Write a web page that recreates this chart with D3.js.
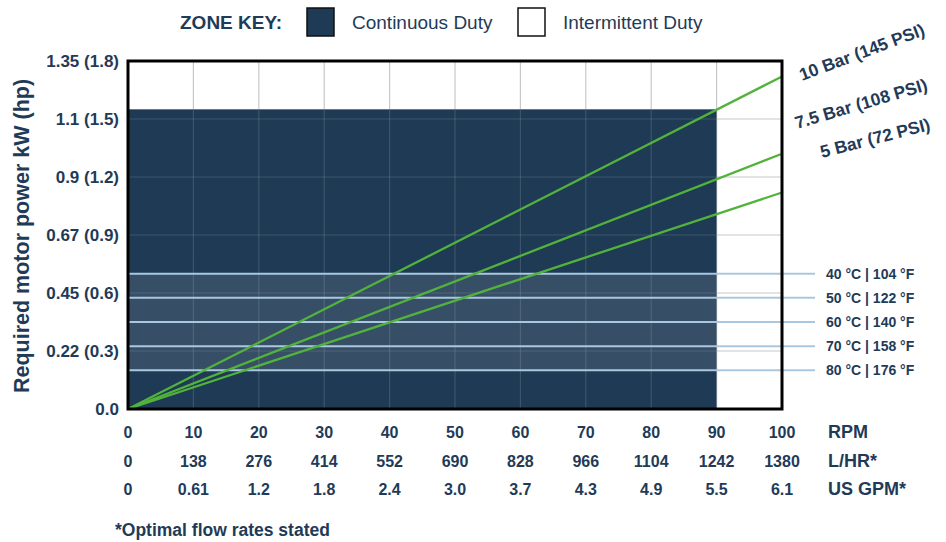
<!DOCTYPE html>
<html>
<head>
<meta charset="utf-8">
<script src="https://cdn.jsdelivr.net/npm/d3@7"></script>
<style>
  body { margin: 0; background: #fff; }
  svg text { font-family: "Liberation Sans", Arial, sans-serif; fill: #1f3b57; }
</style>
</head>
<body>
<svg id="chart" width="946" height="542"></svg>
<script>
// data
const rpm = [0, 10, 20, 30, 40, 50, 60, 70, 80, 90, 100]
const lhr = ["0", "138", "276", "414", "552", "690", "828", "966", "1104", "1242", "1380"]
const gpm = ["0", "0.61", "1.2", "1.8", "2.4", "3.0", "3.7", "4.3", "4.9", "5.5", "6.1"]
const rowUnits = ["RPM", "L/HR*", "US GPM*"]

const hpTicks = [0, 0.3, 0.6, 0.9, 1.2, 1.5, 1.8]
const kwLabels = ["0.0", "0.22", "0.45", "0.67", "0.9", "1.1", "1.35"]

const pressureNames = ["10 Bar (145 PSI)", "7.5 Bar (108 PSI)", "5 Bar (72 PSI)"]
const pressurePowerAt100 = [1.72, 1.32, 1.12]   // hp at 100 rpm, lines start at 0

const tempNames = ["40 °C | 104 °F", "50 °C | 122 °F", "60 °C | 140 °F", "70 °C | 158 °F", "80 °C | 176 °F"]
const tempPower = [0.70, 0.575, 0.45, 0.325, 0.20]

const continuousRpm = 90
const continuousPower = 1.55

// layout
const svg = d3.select("#chart")
const plot = {left: 128, right: 782, top: 61, bottom: 409}
const navy = "#1e3a54"

const x = d3.scaleLinear().domain([0, 100]).range([plot.left, plot.right])
const y = d3.scaleLinear().domain([0, 1.8]).range([plot.bottom, plot.top])

// LEGEND
let legend = svg.append("g")
legend.append("text").text("ZONE KEY:").attr("x", 180).attr("y", 22).attr("dy", "0.35em")
    .style("font-size", "19px").style("font-weight", "bold")
legend.append("rect").attr("x", 307).attr("y", 8).attr("width", 27).attr("height", 28)
    .attr("fill", navy).attr("stroke", "#111").attr("stroke-width", 1.5)
legend.append("text").text("Continuous Duty").attr("x", 352).attr("y", 22).attr("dy", "0.35em")
    .style("font-size", "19px")
legend.append("rect").attr("x", 518).attr("y", 8).attr("width", 27).attr("height", 28)
    .attr("fill", "#fff").attr("stroke", "#111").attr("stroke-width", 1.5)
legend.append("text").text("Intermittent Duty").attr("x", 563).attr("y", 22).attr("dy", "0.35em")
    .style("font-size", "19px")

// GRID (under)
const drawGrid = function (g, color, opacity) {
    g.selectAll(".vg").data(rpm).enter().append("line")
        .attr("x1", d => x(d)).attr("x2", d => x(d)).attr("y1", plot.top).attr("y2", plot.bottom)
        .attr("stroke", color).attr("stroke-width", 1.2).attr("opacity", opacity)
    g.selectAll(".hg").data(hpTicks).enter().append("line")
        .attr("x1", plot.left).attr("x2", plot.right).attr("y1", d => y(d)).attr("y2", d => y(d))
        .attr("stroke", color).attr("stroke-width", 1.2).attr("opacity", opacity)
}
drawGrid(svg.append("g"), "#c8c8c8", 1)

// continuous duty zone
svg.append("rect")
    .attr("x", x(0)).attr("y", y(continuousPower))
    .attr("width", x(continuousRpm) - x(0)).attr("height", y(0) - y(continuousPower))
    .attr("fill", navy)

// lighter band between the temperature lines
svg.append("rect")
    .attr("x", x(0)).attr("y", y(d3.max(tempPower)))
    .attr("width", x(continuousRpm) - x(0)).attr("height", y(d3.min(tempPower)) - y(d3.max(tempPower)))
    .attr("fill", "#ffffff").attr("opacity", 0.11)

// faint grid over the dark zone
svg.append("clipPath").attr("id", "zoneclip").append("rect")
    .attr("x", x(0)).attr("y", y(continuousPower))
    .attr("width", x(continuousRpm) - x(0)).attr("height", y(0) - y(continuousPower))
let g2 = svg.append("g").attr("clip-path", "url(#zoneclip)")
drawGrid(g2, "#9aa4ae", 0.25)

// temperature lines
svg.selectAll(".templine").data(tempPower).enter().append("line")
    .attr("x1", plot.left).attr("x2", 815)
    .attr("y1", d => y(d)).attr("y2", d => y(d))
    .attr("stroke", "#a9c8e0").attr("stroke-width", 2)

svg.selectAll(".templabel").data(tempNames).enter().append("text")
    .text(d => d)
    .attr("x", 826).attr("y", (d, i) => y(tempPower[i])).attr("dy", "0.35em")
    .style("font-size", "14px").style("font-weight", "bold")

// pressure lines
const line = d3.line().x(d => x(d[0])).y(d => y(d[1]))
svg.selectAll(".pline").data(pressurePowerAt100).enter().append("path")
    .attr("d", d => line([[0, 0], [100, d]]))
    .attr("fill", "none").attr("stroke", "#52b33c").attr("stroke-width", 2.3)

// pressure labels (start point + rotation)
const pLabelPos = [[802, 81, -20.5], [797, 129, -16.5], [822, 158, -14.5]]
svg.selectAll(".plabel").data(pressureNames).enter().append("text")
    .text(d => d)
    .attr("transform", (d, i) => "translate(" + pLabelPos[i][0] + "," + pLabelPos[i][1] + ") rotate(" + pLabelPos[i][2] + ")")
    .style("font-size", "17.5px").style("font-weight", "bold")

// border
svg.append("rect").attr("x", plot.left).attr("y", plot.top)
    .attr("width", plot.right - plot.left).attr("height", plot.bottom - plot.top)
    .attr("fill", "none").attr("stroke", "#000").attr("stroke-width", 3)

// Y AXIS labels
svg.selectAll(".ylab").data(hpTicks).enter().append("text")
    .text((d, i) => i == 0 ? kwLabels[i] : kwLabels[i] + " (" + d.toFixed(1) + ")")
    .attr("x", 119).attr("y", d => y(d)).attr("dy", "0.35em")
    .style("text-anchor", "end").style("font-size", "17px").style("font-weight", "bold")

svg.append("text").text("Required motor power kW (hp)")
    .attr("transform", "translate(21,236) rotate(-90)")
    .attr("dy", "0.35em")
    .style("text-anchor", "middle").style("font-size", "21.5px").style("font-weight", "bold")

// X AXIS rows
const rows = [rpm.map(String), lhr, gpm]
const rowY = [432, 461, 489]
rows.forEach((labels, r) => {
    svg.selectAll(".xrow" + r).data(labels).enter().append("text")
        .text(d => d)
        .attr("x", (d, i) => x(rpm[i])).attr("y", rowY[r]).attr("dy", "0.35em")
        .style("text-anchor", "middle").style("font-size", "16px").style("font-weight", "bold")
    svg.append("text").text(rowUnits[r])
        .attr("x", 828).attr("y", rowY[r]).attr("dy", "0.35em")
        .style("font-size", "18px").style("font-weight", "bold")
})

svg.append("text").text("*Optimal flow rates stated")
    .attr("x", 115).attr("y", 530).attr("dy", "0.35em")
    .style("font-size", "17.5px").style("font-weight", "bold")
</script>
</body>
</html>
